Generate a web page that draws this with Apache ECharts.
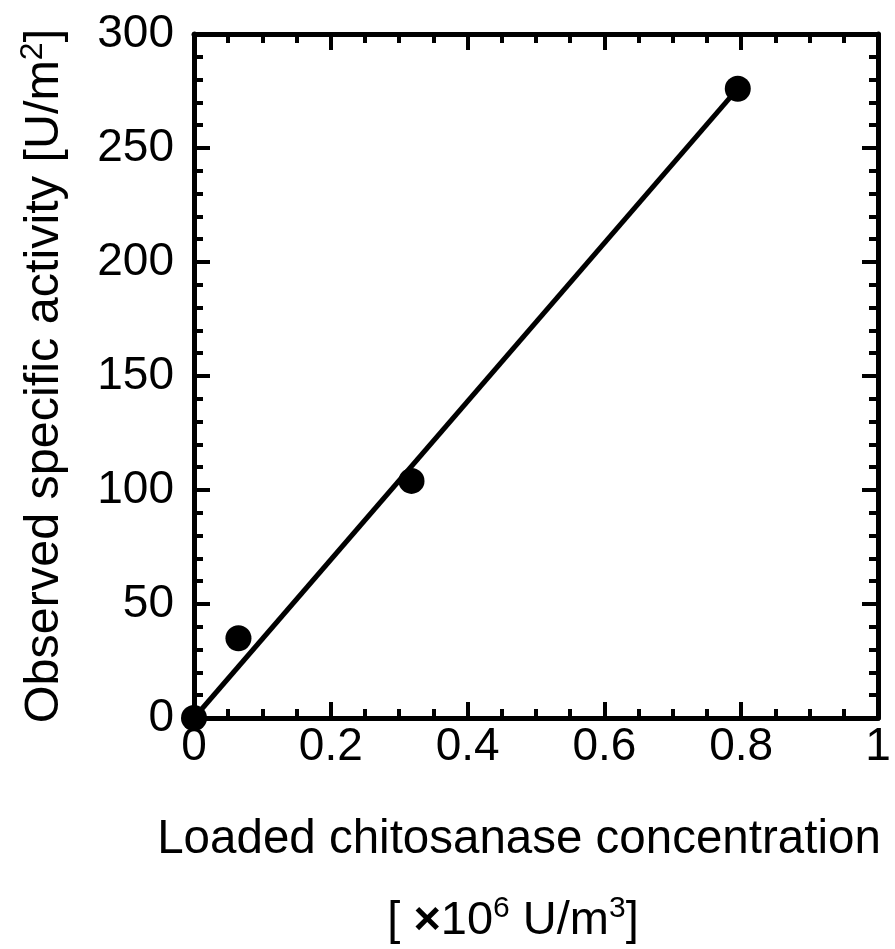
<!DOCTYPE html>
<html>
<head>
<meta charset="utf-8">
<script src="https://cdn.jsdelivr.net/npm/echarts@6/dist/echarts.min.js"></script>
<style>
  html, body { margin: 0; padding: 0; background: #fff; }
  #chart { width: 895px; height: 949px; }
</style>
</head>
<body>
<div id="chart"></div>
<script>
// Measured points: loaded concentration (x10^6 U/m^3) vs observed specific activity (U/m^2)
const loadedConc = [0, 0.065, 0.318, 0.795];
const specActivity = [0, 35, 104, 276];

// Linear fit drawn through the origin
const fitConc = [0, 0.795];
const fitActivity = [0, 276];

// Axis tick settings
const xTicks = { min: 0, max: 1, step: 0.2 };
const yTicks = { min: 0, max: 300, step: 50 };

const FONT = '"Liberation Sans", Arial, Helvetica, sans-serif';

const chart = echarts.init(document.getElementById('chart'), null, { renderer: 'canvas' });

function frameAxis(kind, position, showLabels, range, minorSplit) {
  const ax = {
    type: 'value',
    position: position,
    min: range.min,
    max: range.max,
    interval: range.step,
    axisLine: { show: true, onZero: false, lineStyle: { color: '#000', width: 5 } },
    axisTick: { show: true, inside: true, length: 16, lineStyle: { color: '#000', width: 4 } },
    minorTick: { show: true, splitNumber: minorSplit, length: 9, lineStyle: { color: '#000', width: 4 } },
    splitLine: { show: false },
    minorSplitLine: { show: false },
    axisLabel: { show: false }
  };
  if (showLabels) {
    ax.axisLabel = {
      show: true,
      color: '#000',
      fontFamily: FONT,
      fontSize: 46,
      formatter: function (v) { return String(+v.toFixed(2)); }
    };
    if (kind === 'x') {
      ax.axisLabel.margin = 6;
    } else {
      ax.axisLabel.margin = 20;
      ax.axisLabel.padding = [0, 0, 13, 0];
    }
  }
  return ax;
}

const option = {
  animation: false,
  backgroundColor: '#fff',
  grid: { left: 194, top: 34, right: 17, bottom: 231, containLabel: false },
  xAxis: [
    frameAxis('x', 'bottom', true, xTicks, 4),
    frameAxis('x', 'top', false, xTicks, 4)
  ],
  yAxis: [
    frameAxis('y', 'left', true, yTicks, 5),
    frameAxis('y', 'right', false, yTicks, 5)
  ],
  series: [
    {
      type: 'line',
      xAxisIndex: 0,
      yAxisIndex: 0,
      data: fitConc.map((x, i) => [x, fitActivity[i]]),
      showSymbol: false,
      symbol: 'none',
      lineStyle: { color: '#000', width: 5 },
      clip: false,
      z: 3
    },
    {
      type: 'scatter',
      xAxisIndex: 0,
      yAxisIndex: 0,
      data: loadedConc.map((x, i) => [x, specActivity[i]]),
      symbol: 'circle',
      symbolSize: 26,
      itemStyle: { color: '#000', opacity: 1 },
      clip: false,
      z: 4
    }
  ],
  graphic: [
    {
      type: 'text',
      x: 45,
      y: 376,
      rotation: Math.PI / 2,
      style: {
        text: 'Observed specific activity [U/m{sup|2}]',
        fontFamily: FONT,
        fontSize: 48.5,
        fill: '#000',
        align: 'center',
        verticalAlign: 'middle',
        rich: {
          sup: { fontFamily: FONT, fontSize: 32, verticalAlign: 'top', lineHeight: 56, fill: '#000' }
        },
        lineHeight: 56
      }
    },
    {
      type: 'text',
      x: 519,
      y: 840,
      style: {
        text: 'Loaded chitosanase concentration',
        fontFamily: FONT,
        fontSize: 47.5,
        fill: '#000',
        align: 'center',
        verticalAlign: 'middle'
      }
    },
    {
      type: 'text',
      x: 513,
      y: 921,
      style: {
        text: '[ {x|×}10{sup|6} U/m{sup|3}]',
        fontFamily: FONT,
        fontSize: 47,
        fill: '#000',
        align: 'center',
        verticalAlign: 'middle',
        lineHeight: 54,
        rich: {
          x: { fontFamily: FONT, fontSize: 47, fontWeight: 'bold', lineHeight: 54, fill: '#000' },
          sup: { fontFamily: FONT, fontSize: 30, verticalAlign: 'top', lineHeight: 54, fill: '#000' }
        }
      }
    }
  ]
};

chart.setOption(option);
</script>
</body>
</html>
